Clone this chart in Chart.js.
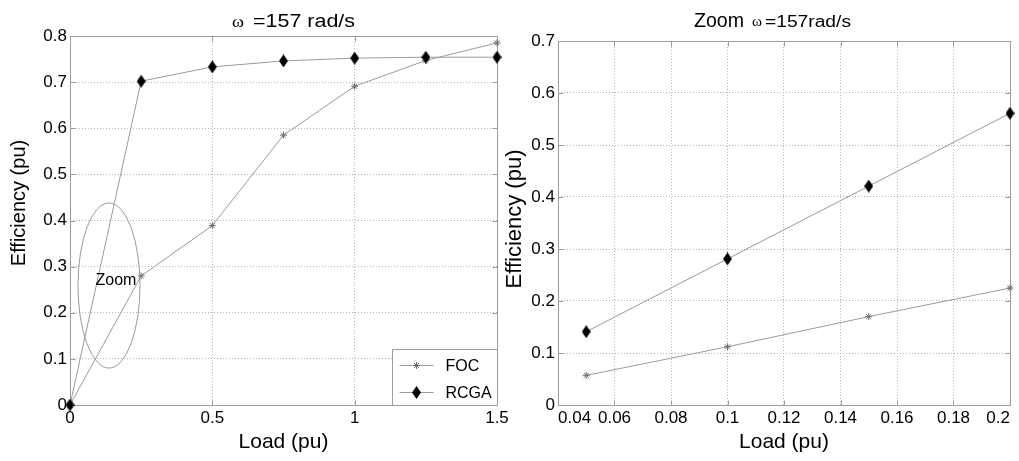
<!DOCTYPE html>
<html>
<head>
<meta charset="utf-8">
<script src="https://cdn.jsdelivr.net/npm/chart.js@4.4.1/dist/chart.umd.min.js"></script>
<style>
html,body{margin:0;padding:0;background:#fff;}
#wrap{position:relative;width:1019px;height:461px;overflow:hidden;background:#fff;}
canvas{position:absolute;top:0;}
#c1{left:0;}
#c2{left:496px;}
</style>
</head>
<body>
<div id="wrap">
<canvas id="c1" width="520" height="461"></canvas>
<canvas id="c2" width="523" height="461"></canvas>
</div>
<script>
// ---------- data ----------
const seriesNames = ['FOC', 'RCGA'];

const loadFull = [0, 0.25, 0.5, 0.75, 1, 1.25, 1.5];
const focFull  = [0, 0.280, 0.389, 0.585, 0.691, 0.747, 0.785];
const rcgaFull = [0, 0.702, 0.733, 0.746, 0.752, 0.754, 0.754];

const loadZoom = [0.05, 0.1, 0.15, 0.2];
const focZoom  = [0.057, 0.112, 0.170, 0.225];
const rcgaZoom = [0.141, 0.281, 0.421, 0.561];

const xTicksFull = [0, 0.5, 1, 1.5];
const yTicksFull = [0, 0.1, 0.2, 0.3, 0.4, 0.5, 0.6, 0.7, 0.8];
const xTicksZoom = [0.04, 0.06, 0.08, 0.1, 0.12, 0.14, 0.16, 0.18, 0.2];
const yTicksZoom = [0, 0.1, 0.2, 0.3, 0.4, 0.5, 0.6, 0.7];

// zoom ellipse annotation (data units)
const zoomMark = { cx: 0.137, cy: 0.259, rx: 0.109, ry: 0.179, tx: 0.1616, ty: 0.2688, text: 'Zoom' };

const titleLeft  = { omega: 'ω', rest: '=157 rad/s' };
const titleRight = { pre: 'Zoom', omega: 'ω', rest: '=157rad/s' };
const xTitle = 'Load (pu)';
const yTitle = 'Efficiency (pu)';

// ---------- styles ----------
const SANS = "'Liberation Sans', Arial, sans-serif";
const SERIF = "'Liberation Serif', 'DejaVu Serif', serif";
const GRID = '#b4b4b4';
const FRAME = '#9c9c9c';
const LINE = '#9a9a9a';
const STAR = '#6f6f6f';

function diamondImg(w, h) {
  const c = document.createElement('canvas');
  c.width = w; c.height = h;
  const g = c.getContext('2d');
  g.fillStyle = '#000';
  g.beginPath();
  g.moveTo(w / 2, 0); g.lineTo(w, h / 2); g.lineTo(w / 2, h); g.lineTo(0, h / 2);
  g.closePath(); g.fill();
  return c;
}
const DIAMOND = diamondImg(9, 13);

function pts(xs, ys) { return xs.map((x, i) => ({ x: x, y: ys[i] })); }

function datasets(xs, foc, rcga) {
  return [
    { label: seriesNames[0], data: pts(xs, foc), showLine: true, borderColor: LINE, borderWidth: 1,
      pointStyle: 'star', pointRadius: 3.5, pointBorderColor: STAR, pointBorderWidth: 1, clip: false, order: 2 },
    { label: seriesNames[1], data: pts(xs, rcga), showLine: true, borderColor: LINE, borderWidth: 1,
      pointStyle: DIAMOND, pointRadius: 6, clip: false, order: 1 }
  ];
}

function scalesFor(xt, yt, yWidth, xAlign) {
  const tickFont = { family: SANS, size: 17 };
  return {
    x: {
      type: 'linear', min: xt[0], max: xt[xt.length - 1],
      afterBuildTicks: s => { s.ticks = xt.map(v => ({ value: v })); },
      afterFit: s => { s.height = 50; s.paddingLeft = 0; s.paddingRight = 0; },
      ticks: { autoSkip: false, maxRotation: 0, padding: 3, color: '#000', font: tickFont, align: xAlign,
               callback: (v, i) => String(xt[i]) },
      grid: { color: GRID, lineWidth: 1, drawTicks: false },
      border: { display: false, dash: [1, 2] }
    },
    y: {
      type: 'linear', min: yt[0], max: yt[yt.length - 1],
      afterBuildTicks: s => { s.ticks = yt.map(v => ({ value: v })); },
      afterFit: s => { s.width = yWidth; s.paddingTop = 0; s.paddingBottom = 0; },
      ticks: { autoSkip: false, padding: 3, color: '#000', font: tickFont,
               callback: (v, i) => String(yt[i]) },
      grid: { color: GRID, lineWidth: 1, drawTicks: false },
      border: { display: false, dash: [1, 2] }
    }
  };
}

const px = v => Math.round(v) + 0.5;

const framePlugin = {
  id: 'frame',
  beforeDatasetsDraw(chart) {
    const { ctx, chartArea: a, scales: { x, y } } = chart;
    ctx.save();
    ctx.strokeStyle = FRAME; ctx.lineWidth = 1; ctx.setLineDash([]);
    const L = px(a.left), R = px(a.right), T = px(a.top), B = px(a.bottom);
    ctx.strokeRect(L, T, R - L, B - T);
    const tl = 5;
    ctx.beginPath();
    x.ticks.forEach(t => {
      const p = px(x.getPixelForValue(t.value));
      ctx.moveTo(p, B); ctx.lineTo(p, B - tl);
      ctx.moveTo(p, T); ctx.lineTo(p, T + tl);
    });
    y.ticks.forEach(t => {
      const p = px(y.getPixelForValue(t.value));
      ctx.moveTo(L, p); ctx.lineTo(L + tl, p);
      ctx.moveTo(R, p); ctx.lineTo(R - tl, p);
    });
    ctx.stroke();
    ctx.restore();
  }
};

function drawStretched(ctx, text, x, y, font, width) {
  ctx.save();
  ctx.font = font;
  const w = ctx.measureText(text).width;
  ctx.translate(x, y);
  ctx.scale(width ? width / w : 1, 1);
  ctx.fillText(text, 0, 0);
  ctx.restore();
}

function axisTitles(ctx, a, yCenter, ySize) {
  ctx.save();
  ctx.fillStyle = '#000';
  ctx.textAlign = 'center';
  ctx.textBaseline = 'middle';
  ctx.font = '21px ' + SANS;
  ctx.fillText(xTitle, (a.left + a.right) / 2, 442);
  ctx.translate(19, yCenter);
  ctx.rotate(-Math.PI / 2);
  ctx.font = ySize + 'px ' + SANS;
  ctx.fillText(yTitle, 0, 0);
  ctx.restore();
}

const leftDecor = {
  id: 'leftDecor',
  afterDatasetsDraw(chart) {
    const { ctx, chartArea: a, scales: { x, y } } = chart;
    // zoom ellipse
    ctx.save();
    const cx = x.getPixelForValue(zoomMark.cx), cy = y.getPixelForValue(zoomMark.cy);
    const rx = Math.abs(x.getPixelForValue(zoomMark.cx + zoomMark.rx) - cx);
    const ry = Math.abs(y.getPixelForValue(zoomMark.cy + zoomMark.ry) - cy);
    ctx.strokeStyle = LINE; ctx.lineWidth = 1;
    ctx.beginPath(); ctx.ellipse(cx, cy, rx, ry, 0, 0, Math.PI * 2); ctx.stroke();
    ctx.fillStyle = '#000'; ctx.font = '16px ' + SANS;
    ctx.textAlign = 'center'; ctx.textBaseline = 'middle';
    ctx.fillText(zoomMark.text, x.getPixelForValue(zoomMark.tx), y.getPixelForValue(zoomMark.ty));
    ctx.restore();

    // legend
    ctx.save();
    const bw = 105, bh = 56;
    const bx = px(a.right - bw), by = px(a.bottom - bh);
    ctx.fillStyle = '#fff';
    ctx.fillRect(bx, by, px(a.right) - bx, px(a.bottom) - by);
    ctx.strokeStyle = FRAME; ctx.lineWidth = 1;
    ctx.strokeRect(bx, by, px(a.right) - bx, px(a.bottom) - by);
    const rows = [by + 15, by + 42];
    const lx0 = bx + 7, lx1 = bx + 41, mx = (lx0 + lx1) / 2;
    ctx.font = '16px ' + SANS; ctx.fillStyle = '#000';
    ctx.textAlign = 'left'; ctx.textBaseline = 'middle';
    rows.forEach((ry2, i) => {
      const yy = Math.round(ry2) + 0.5;
      ctx.strokeStyle = LINE;
      ctx.beginPath(); ctx.moveTo(lx0, yy); ctx.lineTo(lx1, yy); ctx.stroke();
      if (i === 0) {
        ctx.strokeStyle = STAR;
        ctx.beginPath();
        ctx.moveTo(mx, yy - 3.5); ctx.lineTo(mx, yy + 3.5);
        ctx.moveTo(mx - 3.5, yy); ctx.lineTo(mx + 3.5, yy);
        ctx.moveTo(mx - 2.5, yy - 2.5); ctx.lineTo(mx + 2.5, yy + 2.5);
        ctx.moveTo(mx - 2.5, yy + 2.5); ctx.lineTo(mx + 2.5, yy - 2.5);
        ctx.stroke();
      } else {
        ctx.drawImage(DIAMOND, mx - DIAMOND.width / 2, yy - DIAMOND.height / 2);
      }
      ctx.fillText(seriesNames[i], bx + 53, yy + 1);
    });
    ctx.restore();

    // titles
    ctx.save();
    ctx.fillStyle = '#000'; ctx.textAlign = 'left'; ctx.textBaseline = 'alphabetic';
    drawStretched(ctx, titleLeft.omega, 232, 26.5, '17px ' + SERIF, 12);
    drawStretched(ctx, titleLeft.rest, 253, 26.5, '18px ' + SANS, 102);
    ctx.restore();
    axisTitles(ctx, a, 203, 20);
  }
};

const rightDecor = {
  id: 'rightDecor',
  afterDatasetsDraw(chart) {
    const { ctx, chartArea: a } = chart;
    const off = 496;
    ctx.save();
    ctx.fillStyle = '#000'; ctx.textAlign = 'left'; ctx.textBaseline = 'alphabetic';
    drawStretched(ctx, titleRight.pre, 694 - off, 27, '20px ' + SANS, 50);
    drawStretched(ctx, titleRight.omega, 752 - off, 26, '15px ' + SERIF, 10);
    drawStretched(ctx, titleRight.rest, 765 - off, 27, '16px ' + SANS, 86);
    ctx.restore();
    axisTitles(ctx, a, 219, 22);
  }
};

function build(id, xs, foc, rcga, xt, yt, yWidth, pad, plugin, xAlign) {
  return new Chart(document.getElementById(id), {
    type: 'scatter',
    data: { datasets: datasets(xs, foc, rcga) },
    options: {
      responsive: false, animation: false, devicePixelRatio: 1,
      layout: { padding: pad },
      plugins: { legend: { display: false }, tooltip: { enabled: false }, title: { display: false } },
      scales: scalesFor(xt, yt, yWidth, xAlign)
    },
    plugins: [framePlugin, plugin]
  });
}

build('c1', loadFull, focFull, rcgaFull, xTicksFull, yTicksFull, 62,
      { left: 8, right: 23, top: 36, bottom: 6 }, leftDecor, 'center');
build('c2', loadZoom, focZoom, rcgaZoom, xTicksZoom, yTicksZoom, 54,
      { left: 8, right: 9, top: 41, bottom: 6 }, rightDecor, 'inner');
</script>
</body>
</html>
